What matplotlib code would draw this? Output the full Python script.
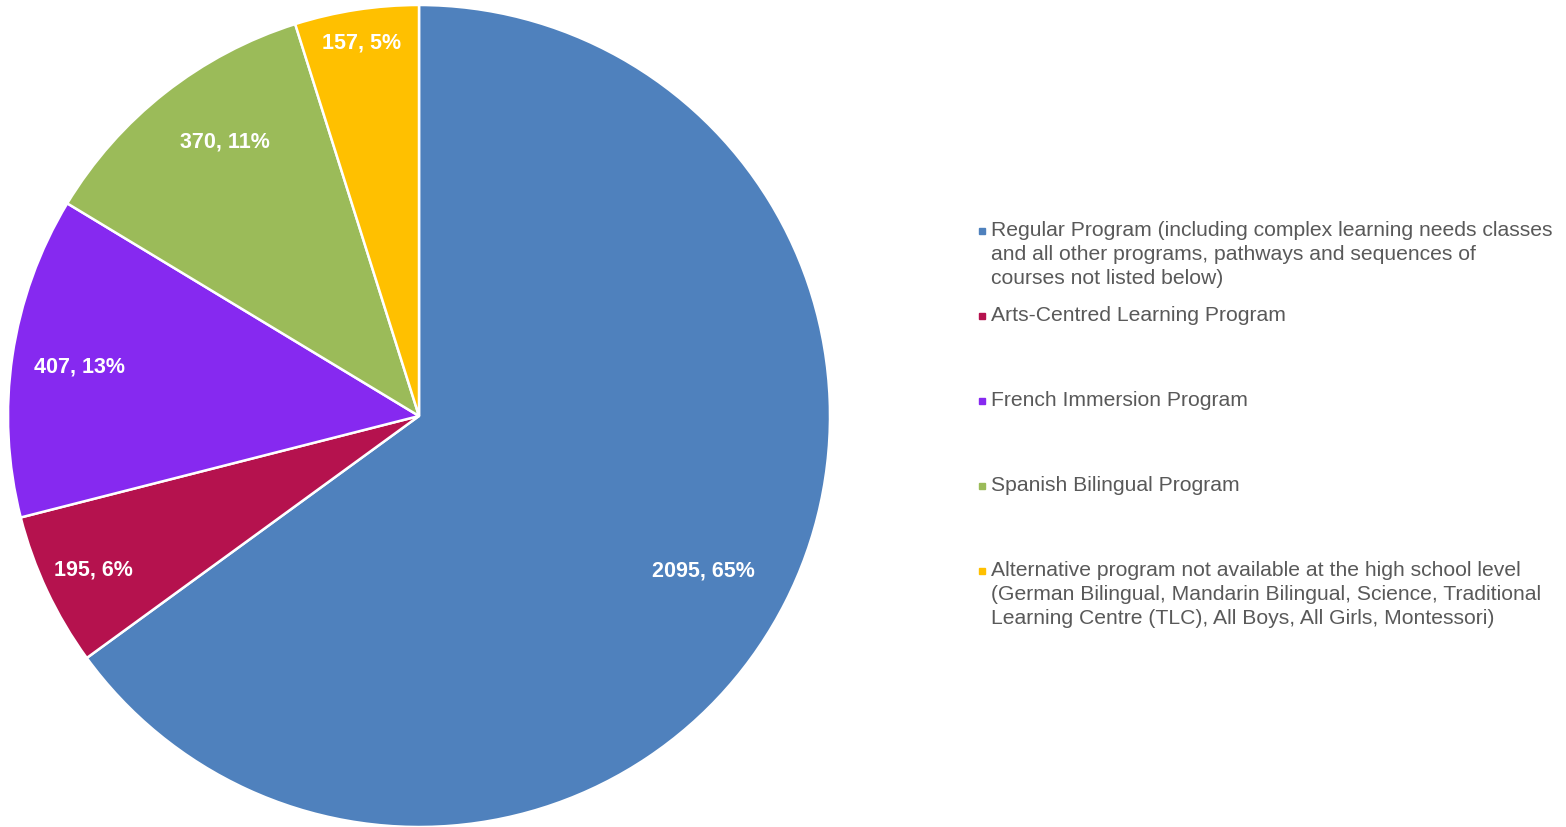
import numpy as np
import matplotlib
matplotlib.use('Agg')
import matplotlib.pyplot as plt
from matplotlib.lines import Line2D

plt.rcParams['font.family'] = ['Liberation Sans', 'DejaVu Sans']

programs = [
    'Regular Program (including complex learning needs classes\nand all other programs, pathways and sequences of\ncourses not listed below)',
    'Arts-Centred Learning Program',
    'French Immersion Program',
    'Spanish Bilingual Program',
    'Alternative program not available at the high school level\n(German Bilingual, Mandarin Bilingual, Science, Traditional\nLearning Centre (TLC), All Boys, All Girls, Montessori)',
]
students = [2095, 195, 407, 370, 157]
colors = ['#4F81BD', '#B5124E', '#8629F0', '#9BBB59', '#FFC000']

# data label placement (radius fraction, angle nudge in degrees), Excel "best fit" look
label_radius = [0.786, 0.875, 0.835, 0.82, 0.92]
label_nudge = [-1.5, 0, 0, -3, 0]

W, H = 1566, 828
fig = plt.figure(figsize=(W / 100, H / 100), dpi=100)

cx, cy, R = 419, 417, 411
ax = fig.add_axes([(cx - R) / W, (H - cy - R) / H, 2 * R / W, 2 * R / H])
wedges, _ = ax.pie(students, colors=colors, startangle=90, counterclock=False,
                   wedgeprops=dict(edgecolor='white', linewidth=1.8))
ax.set_xlim(-1, 1)
ax.set_ylim(-1, 1)
ax.set_aspect('equal')
ax.axis('off')

total = sum(students)
for w, val, r, d in zip(wedges, students, label_radius, label_nudge):
    mid = np.deg2rad((w.theta1 + w.theta2) / 2 + d)
    pct = round(val / total * 100)
    ax.text(r * np.cos(mid), r * np.sin(mid), f'{val}, {pct}%', ha='center', va='center',
            color='white', fontsize=15.5, fontweight='bold')

# legend drawn by hand so entries sit at an even step like the original
x_text = 991 / W
x_mark = 982 / W
y0 = 221
step = 85
for i, (lab, c) in enumerate(zip(programs, colors)):
    ytop = 1 - (y0 + i * step) / H
    fig.text(x_text, ytop, lab, ha='left', va='top', fontsize=15.2, color='#595959',
             linespacing=1.34)
    ym = 1 - (y0 + i * step + 11) / H
    fig.add_artist(Line2D([x_mark], [ym], marker='s', markersize=4.5, color=c,
                          linestyle='none', transform=fig.transFigure))

fig.savefig('out.png', dpi=100)
